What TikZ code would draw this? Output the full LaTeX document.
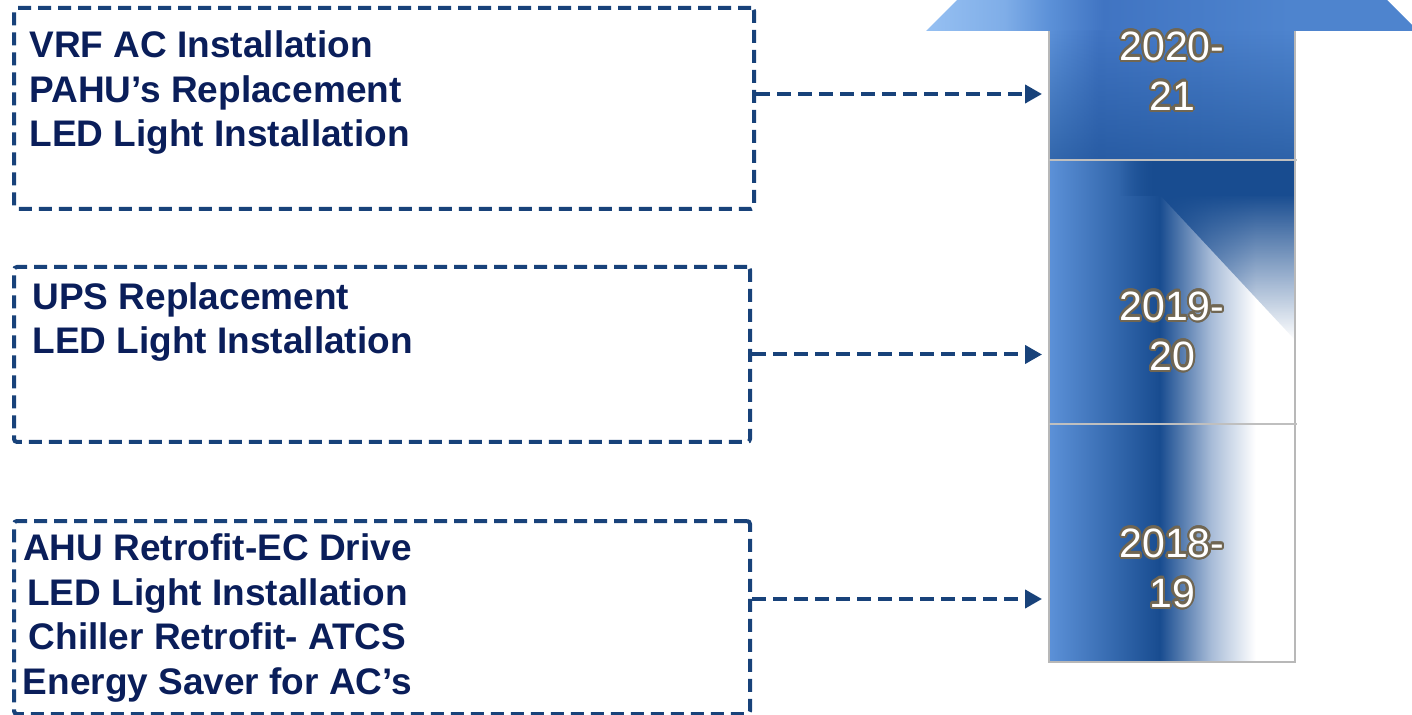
\documentclass[tikz,border=0pt]{standalone}
\usepackage{fontspec}
\setmainfont{Liberation Sans}
\usepackage{contour}
\usepackage{tikz}
\usetikzlibrary{positioning,arrows.meta,fadings}
\definecolor{boxline}{RGB}{24,66,122}
\definecolor{tasknavy}{RGB}{10,30,90}
\definecolor{headlight}{RGB}{150,192,242}
\definecolor{shaftlight}{RGB}{92,145,216}
\definecolor{shaftmid}{RGB}{64,116,194}
\definecolor{shaftmidb}{RGB}{78,132,206}
\definecolor{segdark}{RGB}{24,76,144}
\definecolor{segpale}{RGB}{168,188,216}
\definecolor{yearedge}{RGB}{112,102,82}
\pgfdeclarehorizontalshading{headfade}{100bp}{color(0bp)=(headlight); color(25bp)=(headlight); color(33bp)=(headlight!60!shaftlight); color(37.5bp)=(shaftlight); color(43bp)=(shaftmid); color(62bp)=(shaftmidb); color(75bp)=(shaftmidb); color(100bp)=(shaftmidb)}
\pgfdeclarehorizontalshading{topfade}{100bp}{color(0bp)=(shaftlight); color(25bp)=(shaftlight); color(35bp)=(shaftmid); color(74bp)=(shaftmidb); color(100bp)=(shaftmidb)}
\pgfdeclarehorizontalshading{yearfade}{100bp}{color(0bp)=(shaftlight); color(25bp)=(shaftlight); color(47.5bp)=(segdark); color(58bp)=(segpale); color(67bp)=(white); color(100bp)=(white)}
\tikzfading[name=fade up, top color=transparent!100, bottom color=transparent!0]
\tikzfading[name=fade down, top color=transparent!0, bottom color=transparent!100]
\tikzfading[name=fade in right, left color=transparent!100, right color=transparent!0]
\tikzset{
  taskbox/.style={draw=boxline, line width=2pt, dash pattern=on 6.5pt off 3.5pt, rounded corners=1.5pt, anchor=north west, inner sep=0pt},
  tasktext/.style={text=tasknavy, font=\fontsize{18.5}{22.3}\selectfont\bfseries, align=left, inner sep=0pt},
  segment/.style={inner sep=0pt, outer sep=0pt, minimum width=123pt, draw=none, shade},
  yearlabel/.style={text=white, font=\fontsize{20.5}{25}\selectfont, align=center, inner sep=0pt},
  flow/.style={draw=boxline, line width=2pt, dash pattern=on 7pt off 3.5pt, shorten >=3.5pt, -{Triangle[length=8.5pt,width=9pt]}},
  divider/.style={draw=black!25, line width=0.6pt},
  shaftedge/.style={draw=black!28, line width=0.6pt},
}
\contourlength{1.1pt}
\newcommand{\yearpair}[2]{\contour{yearedge}{#1}\\\contour{yearedge}{#2}}

\begin{document}
\begin{tikzpicture}[x=0.5pt,y=-0.5pt]
  \useasboundingbox (0,0) rectangle (1412,715);
  \clip (0,0) rectangle (1412,715);

  % arrow head and the three year blocks
  \shade[shading=headfade] (926,31) -- (1172,-215) -- (1418,31) -- cycle;
  \node [segment, shading=topfade, minimum height=64.5pt] (seg2021) at (1172,95.5) {};
  \node [segment, shading=yearfade, minimum height=132pt, below=0pt of seg2021] (seg1920) {};
  \node [segment, shading=yearfade, minimum height=119pt, below=0pt of seg1920] (seg1819) {};
  \fill [segdark, opacity=0.6, path fading=fade up] (seg2021.north west) rectangle (seg2021.south east);
  \fill [segdark, path fading=fade in right] ([xshift=35pt]seg1920.north west) rectangle ([xshift=55pt,yshift=-18pt]seg1920.north west);
  \fill [segdark] ([xshift=55pt]seg1920.north west) rectangle ([yshift=-18pt]seg1920.north east);
  \fill [segdark, path fading=fade down] ([xshift=55pt,yshift=-17pt]seg1920.north west) -- ([yshift=-17pt]seg1920.north east) -- ([yshift=-90pt]seg1920.north east) -- cycle;
  \draw [shaftedge] (seg2021.north west) -- (seg1819.south west) -- (seg1819.south east) -- (seg2021.north east);
  \draw [divider] (seg2021.south west) -- ([xshift=1pt]seg2021.south east);
  \draw [divider] (seg1920.south west) -- ([xshift=1pt]seg1920.south east);

  % project boxes
  \node [taskbox, minimum width=370pt, minimum height=100.5pt] (box2021) at (12,6) {};
  \node [taskbox, minimum width=368pt, minimum height=87.5pt] (box1920) at (12,265) {};
  \node [taskbox, minimum width=368pt, minimum height=96.5pt] (box1819) at (12,519) {};

  \node [tasktext, anchor=north west] (txt2021) at (29,30.5) {VRF AC Installation\\PAHU’s Replacement\\LED Light Installation};
  \node [tasktext, anchor=north west] (txt1920) at (32,282) {UPS Replacement\\LED Light Installation};
  \node [tasktext, align=center, anchor=north] (txt1819) at (217.5,533.5) {AHU Retrofit-EC Drive\\LED Light Installation\\Chiller Retrofit- ATCS\\Energy Saver for AC’s};

  \draw [flow] ([yshift=7.25pt]box2021.east) -- ([yshift=7.25pt]box2021.east -| seg2021.west);
  \draw [flow] (box1920.east) -- (box1920.east -| seg1920.west);
  \draw [flow] ([yshift=9.25pt]box1819.east) -- ([yshift=9.25pt]box1819.east -| seg1819.west);

  \node [yearlabel, anchor=north] (yr2021) at (1172,31) {\yearpair{2020-}{21}};
  \node [yearlabel, anchor=north] (yr1920) at (1172,291) {\yearpair{2019-}{20}};
  \node [yearlabel, anchor=north] (yr1819) at (1172,528) {\yearpair{2018-}{19}};
\end{tikzpicture}
\end{document}
